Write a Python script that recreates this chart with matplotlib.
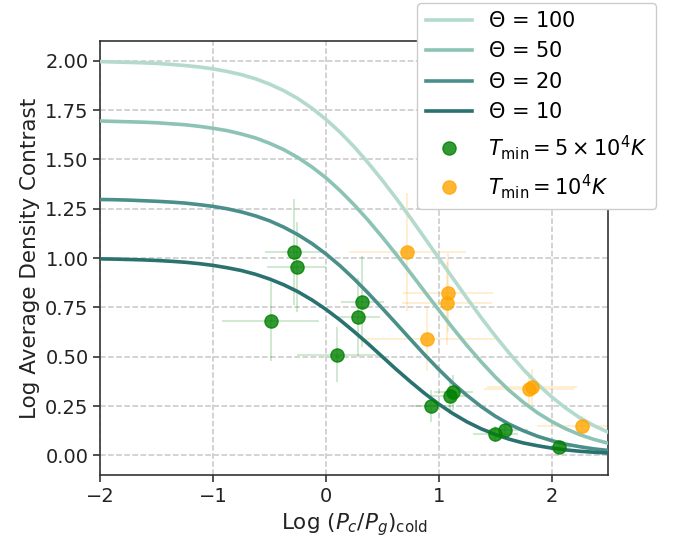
import matplotlib
matplotlib.use("Agg")
import matplotlib.pyplot as plt
import numpy as np

# model curves on a 0.125 grid in log(Pc/Pg)
x_curve = np.linspace(-2.0, 2.5, 37)
y_theta100 = [1.996, 1.994, 1.992, 1.990, 1.987, 1.982, 1.976, 1.969, 1.959, 1.946,
              1.930, 1.909, 1.882, 1.849, 1.809, 1.760, 1.703, 1.638, 1.564, 1.482,
              1.394, 1.301, 1.203, 1.102, 1.000, 0.898, 0.797, 0.699, 0.606, 0.518,
              0.436, 0.362, 0.297, 0.240, 0.191, 0.151, 0.118]
y_theta50 = [1.695, 1.693, 1.691, 1.689, 1.686, 1.681, 1.676, 1.668, 1.658, 1.646,
             1.629, 1.609, 1.582, 1.550, 1.510, 1.462, 1.407, 1.342, 1.270, 1.191,
             1.106, 1.017, 0.924, 0.830, 0.737, 0.645, 0.557, 0.475, 0.398, 0.329,
             0.269, 0.216, 0.172, 0.135, 0.105, 0.081, 0.062]
y_theta20 = [1.297, 1.296, 1.294, 1.291, 1.288, 1.284, 1.279, 1.271, 1.262, 1.250,
             1.234, 1.214, 1.189, 1.157, 1.119, 1.074, 1.021, 0.961, 0.894, 0.822,
             0.745, 0.667, 0.588, 0.510, 0.436, 0.366, 0.304, 0.248, 0.199, 0.158,
             0.125, 0.097, 0.075, 0.057, 0.044, 0.033, 0.025]
y_theta10 = [0.996, 0.995, 0.993, 0.991, 0.988, 0.984, 0.979, 0.972, 0.963, 0.951,
             0.937, 0.918, 0.894, 0.865, 0.830, 0.788, 0.740, 0.686, 0.627, 0.565,
             0.500, 0.435, 0.373, 0.314, 0.260, 0.212, 0.170, 0.135, 0.106, 0.082,
             0.063, 0.049, 0.037, 0.028, 0.021, 0.016, 0.012]
curves = [(y_theta100, "100", "#b3dacc"), (y_theta50, "50", "#8cc3b5"),
          (y_theta20, "20", "#4b8f8b"), (y_theta10, "10", "#2a7270")]

# Tmin = 5e4 K sample
gx = [-0.28, -0.26, -0.49, 0.32, 0.28, 0.10, 0.93, 1.10, 1.13, 1.50, 1.59, 2.07]
gy = [1.03, 0.955, 0.68, 0.78, 0.70, 0.51, 0.25, 0.30, 0.32, 0.11, 0.13, 0.04]
gxerr = [0.26, 0.26, 0.43, 0.19, 0.20, 0.36, 0.17, 0.17, 0.17, 0.20, 0.20, 0.10]
gyerr = [0.27, 0.23, 0.20, 0.23, 0.20, 0.14, 0.08, 0.09, 0.09, 0.04, 0.04, 0.03]

# Tmin = 1e4 K sample
ox = [0.72, 1.08, 1.075, 0.90, 1.80, 1.83, 2.27]
oy = [1.03, 0.825, 0.77, 0.59, 0.335, 0.347, 0.151]
oxerr = [0.52, 0.40, 0.40, 0.60, 0.40, 0.40, 0.40]
oyerr = [0.30, 0.20, 0.21, 0.16, 0.09, 0.09, 0.05]

plt.rcParams["font.family"] = ["DejaVu Sans"]
plt.rcParams["mathtext.fontset"] = "dejavusans"

fig = plt.figure(figsize=(6.74, 5.48), dpi=100)
ax = fig.add_axes([0.149, 0.133, 0.753, 0.792])

for yv, th, c in curves:
    ax.plot(x_curve, yv, color=c, lw=2.6, label=r"$\Theta$ = " + th, zorder=3)

ax.errorbar(gx, gy, xerr=gxerr, yerr=gyerr, fmt="none", ecolor="green",
            alpha=0.2, elinewidth=1.3, zorder=2)
ax.errorbar(ox, oy, xerr=oxerr, yerr=oyerr, fmt="none", ecolor="orange",
            alpha=0.2, elinewidth=1.3, zorder=2)
ax.plot(gx, gy, "o", color="green", alpha=0.8, ms=9.5, zorder=4,
        label=r"$T_{\rm min} = 5 \times 10^4 K$")
ax.plot(ox, oy, "o", color="orange", alpha=0.8, ms=9.5, zorder=4,
        label=r"$T_{\rm min} = 10^4 K$")

ax.set_xlim(-2, 2.5)
ax.set_ylim(-0.1, 2.1)
ax.set_xticks([-2, -1, 0, 1, 2])
ax.set_yticks(np.arange(0, 2.01, 0.25))
ax.grid(True, ls="--", color="#c8c8c8", lw=1.1)
ax.set_axisbelow(True)
for s in ax.spines.values():
    s.set_color("#333333")
    s.set_linewidth(1.2)
ax.tick_params(direction="out", length=5, width=1.2, color="#333333",
               labelsize=14, labelcolor="#222222")
ax.set_xlabel(r"Log $(P_c/P_g)_{\rm cold}$", fontsize=15.5, color="#222222")
ax.set_ylabel("Log Average Density Contrast", fontsize=15.5, color="#222222")

leg = ax.legend(loc="upper right", bbox_to_anchor=(0.973, 0.995),
                bbox_transform=fig.transFigure, fontsize=15, borderaxespad=0,
                framealpha=1, edgecolor="#cccccc", handlelength=2.2)

fig.savefig("out.png", dpi=100)
